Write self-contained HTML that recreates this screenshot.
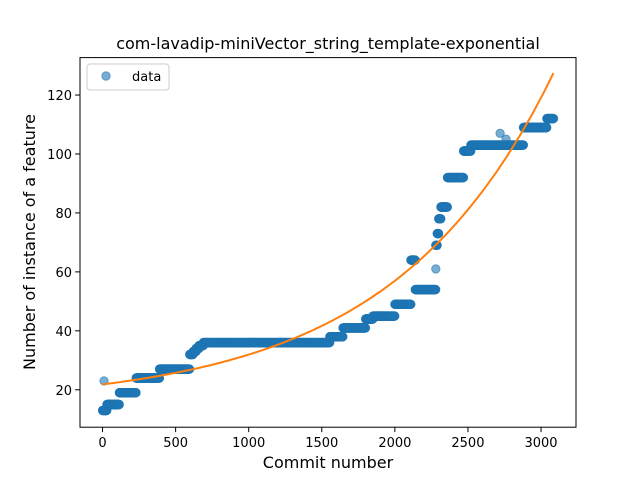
<!DOCTYPE html>
<html><head><meta charset="utf-8"><style>
body{margin:0;background:#fff}
svg text{font-family:"DejaVu Sans","Liberation Sans",sans-serif;fill:#000}
</style></head><body>
<svg id="chart" width="640" height="480" xmlns="http://www.w3.org/2000/svg">
<rect width="640" height="480" fill="#fff"/>
<text x="328" y="49" font-size="16" text-anchor="middle">com-lavadip-miniVector_string_template-exponential</text>
<g id="marks"></g>
<g id="axes"></g>
<rect x="80" y="57.6" width="496" height="369.6" fill="none" stroke="#000" stroke-width="1"/>
<text x="328" y="468" font-size="16" text-anchor="middle">Commit number</text>
<text transform="translate(35,242) rotate(-90)" font-size="16" text-anchor="middle">Number of instance of a feature</text>
<g>
<rect x="87" y="64" width="82" height="26" rx="3" fill="#fff" fill-opacity="0.8" stroke="#ccc"/>
<circle cx="106" cy="76" r="4.2" fill="#1f77b4" fill-opacity="0.6" stroke="#1f77b4" stroke-opacity="0.6"/>
<text x="132" y="81" font-size="13">data</text>
</g>
</svg>
<script>
const stepStarts=[0,30,115,230,390,596,620,640,660,690,1555,1645,1800,1850,2000,2110,2140,2280,2290,2300,2315,2360,2470,2520,2880,3040];
const stepValues=[13,15,19,24,27,32,33,34,35,36,38,41,44,45,49,64,54,69,73,78,82,92,101,103,109,112];
const lastCommit=3085;
const outlierX=[10,2280,2720,2760];
const outlierY=[23,61,107,105];
const fitA=6.83, fitB=0.000908, fitC=15;
const xTicks=[0,500,1000,1500,2000,2500,3000];
const yTicks=[20,40,60,80,100,120];
const L=80,R=576,T=57.6,B=427.2;
const xmin=-154.25,xmax=3239.25,ymin=7.3,ymax=132.7;
const sx=v=>L+(v-xmin)/(xmax-xmin)*(R-L);
const sy=v=>B-(v-ymin)/(ymax-ymin)*(B-T);
const NS="http://www.w3.org/2000/svg";
const marks=document.getElementById('marks'),axes=document.getElementById('axes');
function valueAt(c){let v=stepValues[0];for(let i=0;i<stepStarts.length;i++){if(c>=stepStarts[i])v=stepValues[i];}return v;}
let pts=[];
for(let c=0;c<=lastCommit;c++)pts.push([c,valueAt(c)]);
for(let i=0;i<outlierX.length;i++)pts.push([outlierX[i],outlierY[i]]);
pts.forEach(p=>{
const el=document.createElementNS(NS,'circle');
el.setAttribute('cx',sx(p[0]).toFixed(1));el.setAttribute('cy',sy(p[1]).toFixed(1));
el.setAttribute('r','4.2');el.setAttribute('fill','#1f77b4');el.setAttribute('fill-opacity','0.6');
el.setAttribute('stroke','#1f77b4');el.setAttribute('stroke-opacity','0.6');el.setAttribute('stroke-width','1');


marks.appendChild(el);
});
let d='';
const fitF=c=>fitA*Math.exp(fitB*c)+fitC;
for(let c=0;c<=lastCommit;c+=20){d+=(c?'L':'M')+sx(c).toFixed(1)+' '+sy(fitF(c)).toFixed(1);}
d+='L'+sx(lastCommit).toFixed(1)+' '+sy(fitF(lastCommit)).toFixed(1);
const fit=document.createElementNS(NS,'path');
fit.setAttribute('d',d);fit.setAttribute('fill','none');fit.setAttribute('stroke','#ff7f0e');fit.setAttribute('stroke-width','2');


marks.appendChild(fit);
xTicks.forEach(t=>{
const x=sx(t);
const ln=document.createElementNS(NS,'line');
ln.setAttribute('x1',x);ln.setAttribute('x2',x);ln.setAttribute('y1',B);ln.setAttribute('y2',B+4.9);ln.setAttribute('stroke','#000');


axes.appendChild(ln);
const tx=document.createElementNS(NS,'text');
tx.setAttribute('x',x);tx.setAttribute('y',B+20);tx.setAttribute('font-size','13');tx.setAttribute('text-anchor','middle');
tx.textContent=t;


axes.appendChild(tx);
});
yTicks.forEach(t=>{
const y=sy(t);
const ln=document.createElementNS(NS,'line');
ln.setAttribute('x1',L-4.9);ln.setAttribute('x2',L);ln.setAttribute('y1',y);ln.setAttribute('y2',y);ln.setAttribute('stroke','#000');


axes.appendChild(ln);
const tx=document.createElementNS(NS,'text');
tx.setAttribute('x',L-8);tx.setAttribute('y',y+5);tx.setAttribute('font-size','13');tx.setAttribute('text-anchor','end');
tx.textContent=t;


axes.appendChild(tx);
});
</script>
</body></html>
